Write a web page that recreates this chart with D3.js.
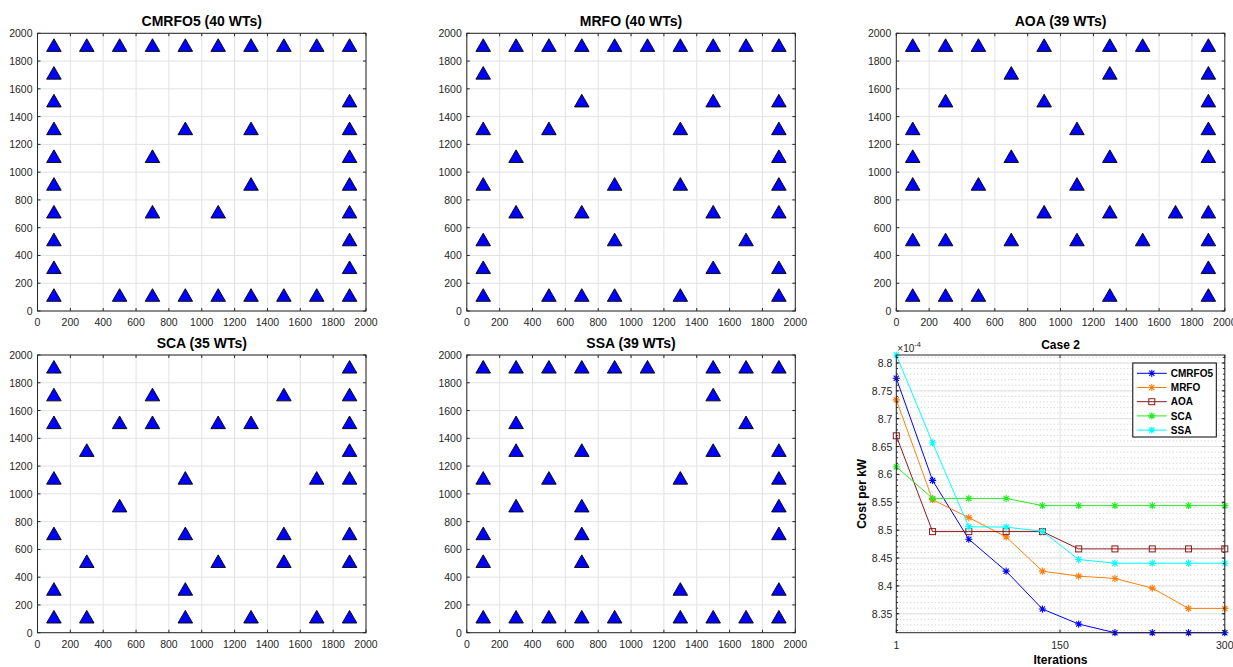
<!DOCTYPE html>
<html lang="en">
<head>
<meta charset="UTF-8">
<title>Wind farm layouts</title>
<script src="https://cdnjs.cloudflare.com/ajax/libs/d3/7.8.5/d3.min.js"></script>
<style>
  body { margin: 0; background: #fff; }
  svg { display: block; font-family: "Liberation Sans", Arial, sans-serif; }
</style>
</head>
<body>
<svg id="chart" width="1233" height="667"></svg>
<script>
// turbine positions [x, y] for each algorithm, row by row from the top
var cmrfo5Pos = [
  [100,1900],[300,1900],[500,1900],[700,1900],[900,1900],[1100,1900],[1300,1900],[1500,1900],[1700,1900],[1900,1900],
  [100,1700],
  [100,1500],[1900,1500],
  [100,1300],[900,1300],[1300,1300],[1900,1300],
  [100,1100],[700,1100],[1900,1100],
  [100,900],[1300,900],[1900,900],
  [100,700],[700,700],[1100,700],[1900,700],
  [100,500],[1900,500],
  [100,300],[1900,300],
  [100,100],[500,100],[700,100],[900,100],[1100,100],[1300,100],[1500,100],[1700,100],[1900,100]
];
var mrfoPos = [
  [100,1900],[300,1900],[500,1900],[700,1900],[900,1900],[1100,1900],[1300,1900],[1500,1900],[1700,1900],[1900,1900],
  [100,1700],
  [700,1500],[1500,1500],[1900,1500],
  [100,1300],[500,1300],[1300,1300],[1900,1300],
  [300,1100],[1900,1100],
  [100,900],[900,900],[1300,900],[1900,900],
  [300,700],[700,700],[1500,700],[1900,700],
  [100,500],[900,500],[1700,500],
  [100,300],[1500,300],[1900,300],
  [100,100],[500,100],[700,100],[900,100],[1300,100],[1900,100]
];
var aoaPos = [
  [100,1900],[300,1900],[500,1900],[900,1900],[1300,1900],[1500,1900],[1900,1900],
  [700,1700],[1300,1700],[1900,1700],
  [300,1500],[900,1500],[1900,1500],
  [100,1300],[1100,1300],[1900,1300],
  [100,1100],[700,1100],[1300,1100],[1900,1100],
  [100,900],[500,900],[1100,900],
  [900,700],[1300,700],[1700,700],[1900,700],
  [100,500],[300,500],[700,500],[1100,500],[1500,500],[1900,500],
  [1900,300],
  [100,100],[300,100],[500,100],[1300,100],[1900,100]
];
var scaPos = [
  [100,1900],[1900,1900],
  [100,1700],[700,1700],[1500,1700],[1900,1700],
  [100,1500],[500,1500],[700,1500],[1100,1500],[1300,1500],[1900,1500],
  [300,1300],[1900,1300],
  [100,1100],[900,1100],[1700,1100],[1900,1100],
  [500,900],
  [100,700],[900,700],[1500,700],[1900,700],
  [300,500],[1100,500],[1500,500],[1900,500],
  [100,300],[900,300],
  [100,100],[300,100],[900,100],[1300,100],[1700,100],[1900,100]
];
var ssaPos = [
  [100,1900],[300,1900],[500,1900],[700,1900],[900,1900],[1100,1900],[1500,1900],[1700,1900],[1900,1900],
  [1500,1700],
  [300,1500],[1700,1500],
  [300,1300],[700,1300],[1500,1300],[1900,1300],
  [100,1100],[500,1100],[1300,1100],[1900,1100],
  [300,900],[700,900],[1900,900],
  [100,700],[700,700],[1900,700],
  [100,500],[700,500],
  [1300,300],[1900,300],
  [100,100],[300,100],[500,100],[700,100],[900,100],[1300,100],[1500,100],[1700,100],[1900,100]
];
var layoutTitles = ["CMRFO5 (40 WTs)", "MRFO (40 WTs)", "AOA (39 WTs)", "SCA (35 WTs)", "SSA (39 WTs)"];
var layoutTicks = [0, 200, 400, 600, 800, 1000, 1200, 1400, 1600, 1800, 2000];

// convergence curves, cost per kW (x 1e-4)
var iterations = [1, 34, 67, 101, 134, 167, 200, 234, 267, 300];
var cmrfo5Cost = [8.7725, 8.5893, 8.4837, 8.4264, 8.3584, 8.3315, 8.3160, 8.3160, 8.3160, 8.3160];
var mrfoCost   = [8.7338, 8.5547, 8.5225, 8.4879, 8.4264, 8.4175, 8.4133, 8.3960, 8.3596, 8.3596];
var aoaCost    = [8.6693, 8.4974, 8.4974, 8.4974, 8.4974, 8.4664, 8.4664, 8.4664, 8.4664, 8.4664];
var scaCost    = [8.6138, 8.5570, 8.5570, 8.5570, 8.5440, 8.5440, 8.5440, 8.5440, 8.5440, 8.5440];
var ssaCost    = [8.8143, 8.6568, 8.5060, 8.5055, 8.4980, 8.4473, 8.4407, 8.4407, 8.4407, 8.4407];
var seriesNames = ["CMRFO5", "MRFO", "AOA", "SCA", "SSA"];

var svg = d3.select("#chart");
var axisColor = "#262626", gridColor = "#e2e2e2";

var colLeft = [37.5, 466.8, 896.3], plotW = 328.5;
var rowTop = [33.3, 355], plotH = 277.7;

function boxTicks(g, x, y, xt, yt, len) {
  var w = x.range()[1] - x.range()[0], h = y.range()[0] - y.range()[1];
  xt.forEach(function(v) {
    g.append("line").attr("x1", x(v)).attr("x2", x(v)).attr("y1", h).attr("y2", h - len).attr("stroke", axisColor);
    g.append("line").attr("x1", x(v)).attr("x2", x(v)).attr("y1", 0).attr("y2", len).attr("stroke", axisColor);
  });
  yt.forEach(function(v) {
    g.append("line").attr("x1", 0).attr("x2", len).attr("y1", y(v)).attr("y2", y(v)).attr("stroke", axisColor);
    g.append("line").attr("x1", w).attr("x2", w - len).attr("y1", y(v)).attr("y2", y(v)).attr("stroke", axisColor);
  });
}

function drawLayout(idx, title, pts) {
  var col = idx % 3, row = Math.floor(idx / 3);
  var g = svg.append("g").attr("transform", "translate(" + colLeft[col] + "," + rowTop[row] + ")");
  var x = d3.scaleLinear().domain([0, 2000]).range([0, plotW]);
  var y = d3.scaleLinear().domain([0, 2000]).range([plotH, 0]);

  // grid
  g.selectAll(".gx").data(layoutTicks).enter().append("line")
    .attr("x1", d => x(d)).attr("x2", d => x(d)).attr("y1", 0).attr("y2", plotH)
    .attr("stroke", gridColor);
  g.selectAll(".gy").data(layoutTicks).enter().append("line")
    .attr("x1", 0).attr("x2", plotW).attr("y1", d => y(d)).attr("y2", d => y(d))
    .attr("stroke", gridColor);

  // turbines
  g.selectAll("path.wt").data(pts).enter().append("path")
    .attr("class", "wt")
    .attr("d", d3.symbol(d3.symbolTriangle, 92))
    .attr("transform", d => "translate(" + x(d[0]) + "," + y(d[1]) + ")")
    .attr("fill", "#0000ff").attr("stroke", "#000").attr("stroke-width", 0.9);

  // box + ticks
  g.append("rect").attr("width", plotW).attr("height", plotH)
    .attr("fill", "none").attr("stroke", axisColor).attr("stroke-width", 1);
  boxTicks(g, x, y, layoutTicks, layoutTicks, 3);

  g.selectAll(".xl").data(layoutTicks).enter().append("text")
    .attr("x", d => x(d)).attr("y", plotH + 15)
    .attr("text-anchor", "middle").attr("font-size", 10.5).attr("fill", axisColor)
    .text(d => d);
  g.selectAll(".yl").data(layoutTicks).enter().append("text")
    .attr("x", -5).attr("y", d => y(d) + 4)
    .attr("text-anchor", "end").attr("font-size", 10.5).attr("fill", axisColor)
    .text(d => d);

  g.append("text").attr("x", plotW / 2).attr("y", -7.5)
    .attr("text-anchor", "middle").attr("font-size", 14).attr("font-weight", "bold")
    .text(title);
}

[cmrfo5Pos, mrfoPos, aoaPos, scaPos, ssaPos].forEach(function(p, i) {
  drawLayout(i, layoutTitles[i], p);
});

// ---- convergence plot ----
var series = [cmrfo5Cost, mrfoCost, aoaCost, scaCost, ssaCost];
var colors = ["#0000ff", "#ff7f0e", "#8e1b1b", "#22ee22", "#00ffff"];
var shapes = ["star", "star", "square", "star", "star"];

var cg = svg.append("g").attr("transform", "translate(" + colLeft[2] + "," + rowTop[1] + ")");
var cx = d3.scaleLinear().domain([1, 300]).range([0, plotW]);
var cy = d3.scaleLinear().domain(d3.extent(d3.merge(series))).range([plotH, 0]);
var majorY = cy.ticks(10), minorY = cy.ticks(50);
var xTicks = [1, 150, 300];

cg.selectAll(".mg").data(minorY).enter().append("line")
  .attr("x1", 0).attr("x2", plotW).attr("y1", d => cy(d)).attr("y2", d => cy(d))
  .attr("stroke", "#bdbdbd").attr("stroke-width", 0.8).attr("stroke-dasharray", "1,2.5");
cg.selectAll(".gy").data(majorY).enter().append("line")
  .attr("x1", 0).attr("x2", plotW).attr("y1", d => cy(d)).attr("y2", d => cy(d))
  .attr("stroke", gridColor);
cg.selectAll(".gx").data(xTicks).enter().append("line")
  .attr("x1", d => cx(d)).attr("x2", d => cx(d)).attr("y1", 0).attr("y2", plotH)
  .attr("stroke", gridColor);

function marker(sel, shape, color) {
  if (shape === "square") {
    sel.append("rect").attr("x", -3).attr("y", -3).attr("width", 6).attr("height", 6)
      .attr("fill", "none").attr("stroke", color).attr("stroke-width", 1);
  } else {
    var r = 3.6, d = 2.6;
    sel.append("path")
      .attr("d", "M" + (-r) + ",0L" + r + ",0M0," + (-r) + "L0," + r +
                 "M" + (-d) + "," + (-d) + "L" + d + "," + d + "M" + (-d) + "," + d + "L" + d + "," + (-d))
      .attr("fill", "none").attr("stroke", color).attr("stroke-width", 1.1);
  }
}

var line = d3.line().x((d, i) => cx(iterations[i])).y(d => cy(d));
series.forEach(function(vals, s) {
  cg.append("path").datum(vals).attr("d", line)
    .attr("fill", "none").attr("stroke", colors[s]).attr("stroke-width", 1);
  vals.forEach(function(v, i) {
    marker(cg.append("g").attr("transform", "translate(" + cx(iterations[i]) + "," + cy(v) + ")"), shapes[s], colors[s]);
  });
});

cg.append("rect").attr("width", plotW).attr("height", plotH)
  .attr("fill", "none").attr("stroke", axisColor).attr("stroke-width", 1);
boxTicks(cg, cx, cy, xTicks, majorY, 3);
boxTicks(cg, cx, cy, [], minorY, 1.8);

var fmt = d3.format(".3~f");
cg.selectAll(".yl").data(majorY).enter().append("text")
  .attr("x", -4).attr("y", d => cy(d) + 4)
  .attr("text-anchor", "end").attr("font-size", 10.5).attr("fill", axisColor)
  .text(d => fmt(d));
cg.selectAll(".xl").data(xTicks).enter().append("text")
  .attr("x", d => cx(d)).attr("y", plotH + 16)
  .attr("text-anchor", "middle").attr("font-size", 10.5).attr("fill", axisColor)
  .text(d => d);

var ex = cg.append("text").attr("x", 1).attr("y", -3).attr("font-size", 10).attr("fill", axisColor);
ex.append("tspan").text("\u00d710");
ex.append("tspan").attr("dy", -5).attr("font-size", 7.5).text("-4");

cg.append("text").attr("x", plotW / 2).attr("y", -6)
  .attr("text-anchor", "middle").attr("font-size", 12).attr("font-weight", "bold").text("Case 2");
cg.append("text").attr("x", plotW / 2).attr("y", plotH + 31)
  .attr("text-anchor", "middle").attr("font-size", 12).attr("font-weight", "bold").text("Iterations");
cg.append("text").attr("transform", "translate(-30," + (plotH / 2) + ") rotate(-90)")
  .attr("text-anchor", "middle").attr("font-size", 12).attr("font-weight", "bold").text("Cost per kW");

// legend
var lg = cg.append("g").attr("transform", "translate(" + (plotW - 92) + ",8)");
lg.append("rect").attr("width", 83.5).attr("height", 74)
  .attr("fill", "#fff").attr("stroke", "#000").attr("stroke-width", 1);
seriesNames.forEach(function(name, i) {
  var yy = 10.3 + i * 14.2;
  lg.append("line").attr("x1", 4).attr("x2", 34).attr("y1", yy).attr("y2", yy)
    .attr("stroke", colors[i]).attr("stroke-width", 1);
  marker(lg.append("g").attr("transform", "translate(19," + yy + ")"), shapes[i], colors[i]);
  lg.append("text").attr("x", 38).attr("y", yy + 3.6)
    .attr("font-size", 10).attr("font-weight", "bold").text(name);
});
</script>
</body>
</html>
